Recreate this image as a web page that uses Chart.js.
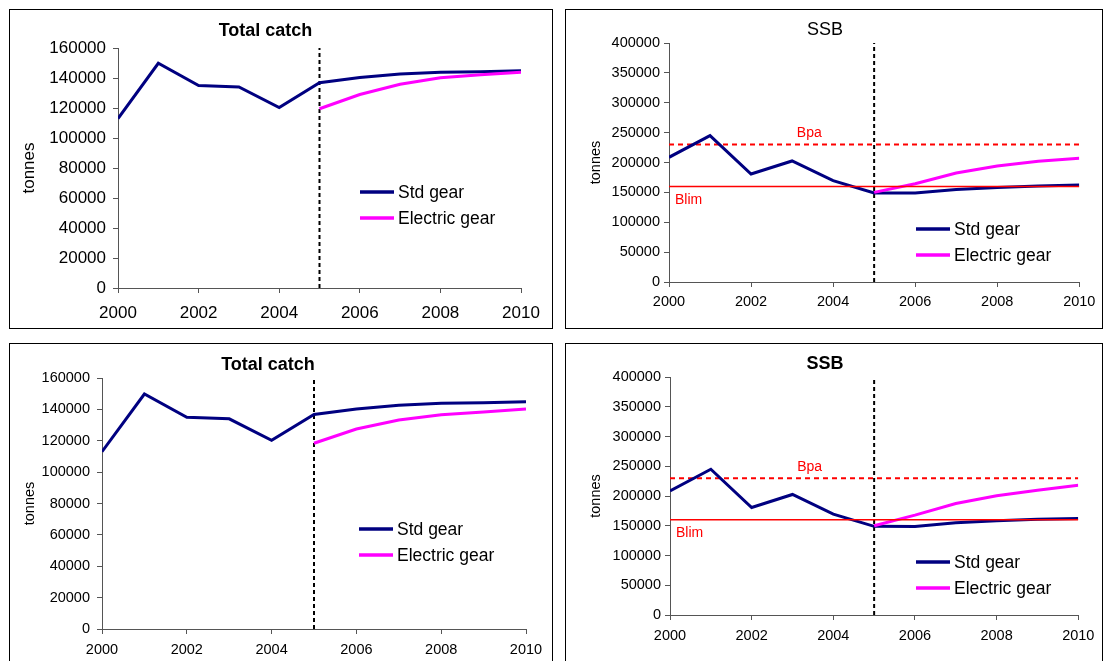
<!DOCTYPE html>
<html>
<head>
<meta charset="utf-8">
<script src="https://cdn.jsdelivr.net/npm/chart.js@4.4.1/dist/chart.umd.min.js"></script>
<style>
  body{margin:0;background:#fff;width:1104px;height:661px;overflow:hidden;position:relative;font-family:"Liberation Sans",Arial,sans-serif}
  .panel{position:absolute;border:1px solid #000;background:#fff;overflow:hidden}
  .panel canvas{display:block}
</style>
</head>
<body>
<div class="panel" style="left:9px;top:9px;width:542px;height:318px"><canvas id="c1" width="542" height="318"></canvas></div>
<div class="panel" style="left:565px;top:9px;width:536px;height:318px"><canvas id="c2" width="536" height="318"></canvas></div>
<div class="panel" style="left:9px;top:343px;width:542px;height:330px"><canvas id="c3" width="542" height="318"></canvas></div>
<div class="panel" style="left:565px;top:343px;width:536px;height:330px"><canvas id="c4" width="536" height="318"></canvas></div>
<script>
// years and projection years
const years = [2000,2001,2002,2003,2004,2005,2006,2007,2008,2009,2010];
const projYears = [2005,2006,2007,2008,2009,2010];
const yearTicks = [2000,2002,2004,2006,2008,2010];

// total catch (tonnes)
const catchStd = [113000,149800,135000,134000,120300,136800,140300,142700,143900,144200,144800];
const catchElecTop = [119500,129000,135800,140200,142200,143900];
const catchElecBottom = [118400,127500,133200,136600,138300,140200];
const catchTicks = [0,20000,40000,60000,80000,100000,120000,140000,160000];

// SSB (tonnes)
const ssbStd = [208700,245000,180700,202600,169600,149000,148800,155000,158300,160800,162200];
const ssbElecTop = [150000,164500,182400,194100,202000,207000];
const ssbElecBottom = [150000,167800,187400,200300,209800,218200];
const ssbTicks = [0,50000,100000,150000,200000,250000,300000,350000,400000];
const Bpa = 230000;
const Blim = 160000;

const seriesNames = ['Std gear','Electric gear'];
const NAVY = '#000080', MAGENTA = '#FF00FF', RED = '#FF0000';
const FONT = '"Liberation Sans", Arial, sans-serif';

function pts(xs, ys){ return xs.map((x,i)=>({x:x, y:ys[i]})); }

// legend + reference line labels drawn inside the plot
const deco = {
  id:'deco',
  afterDatasetsDraw(chart, args, o){
    const ctx = chart.ctx, xs = chart.scales.x, ys = chart.scales.y;
    ctx.save();
    ctx.textBaseline = 'middle';
    (o.refs || []).forEach(r=>{
      ctx.fillStyle = RED;
      ctx.font = '14px ' + FONT;
      ctx.textAlign = r.align;
      ctx.fillText(r.text, xs.getPixelForValue(r.x) + r.dx, ys.getPixelForValue(r.y) + r.dy);
    });
    const items = chart.data.datasets.filter(d=>d.inLegend);
    items.forEach((d,i)=>{
      const ly = o.y + i*26;
      ctx.strokeStyle = d.borderColor; ctx.lineWidth = 3.5;
      ctx.beginPath(); ctx.moveTo(o.x, ly); ctx.lineTo(o.x+34, ly); ctx.stroke();
      ctx.fillStyle = '#000'; ctx.textAlign = 'left';
      ctx.font = '17.5px ' + FONT;
      ctx.fillText(d.label, o.x+38, ly+1);
    });
    ctx.restore();
  }
};

function makePanel(id, p){
  const yMax = p.yTicks[p.yTicks.length-1];
  const datasets = [
    { label: seriesNames[0], inLegend:true, data: pts(years, p.std), borderColor: NAVY, borderWidth: 3, order: 2 },
    { label: seriesNames[1], inLegend:true, data: pts(projYears, p.elec), borderColor: MAGENTA, borderWidth: 3, order: 1 },
    { label: 'proj', data: [{x:2005,y:0},{x:2005,y:yMax}], borderColor:'#000', borderWidth: 2, borderDash:[4,3], order: 3 }
  ];
  if(p.refs){
    datasets.push({ label:'Bpa', data: [{x:2000,y:Bpa},{x:2010,y:Bpa}], borderColor: RED, borderWidth: 2, borderDash:[5,4], order: 4 });
    datasets.push({ label:'Blim', data: [{x:2000,y:Blim},{x:2010,y:Blim}], borderColor: RED, borderWidth: 1.5, order: 0 });
  }
  datasets.forEach(d=>{ d.pointRadius = 0; d.tension = 0; d.fill = false; });

  return new Chart(document.getElementById(id).getContext('2d'), {
    type: 'line',
    data: { datasets: datasets },
    plugins: [deco],
    options: {
      responsive: false, animation: false,
      layout: { padding: { left: 0, right: p.padRight, top: 0, bottom: 0 } },
      plugins: {
        legend: { display: false }, tooltip: { enabled: false },
        title: { display: true, text: p.title, color: '#000',
                 font: { family: FONT, size: 18, weight: p.bold ? 'bold' : 'normal' },
                 padding: { top: p.titleTop, bottom: p.titleBottom } },
        deco: { x: p.legX, y: p.legY, refs: p.refs }
      },
      scales: {
        x: {
          type: 'linear', min: 2000, max: 2010,
          afterBuildTicks: a => { a.ticks = yearTicks.map(v=>({value:v})); },
          afterFit: s => { s.height = p.xHeight; },
          grid: { display: true, drawOnChartArea: false, drawTicks: true, tickLength: 5, color: '#555' },
          border: { display: true, color: '#555', width: 1 },
          ticks: { color: '#000', padding: p.xPad, maxRotation: 0, font: { family: FONT, size: p.tickSize },
                   callback: v => String(v) }
        },
        y: {
          min: 0, max: yMax,
          afterBuildTicks: a => { a.ticks = p.yTicks.map(v=>({value:v})); },
          afterFit: s => { s.width = p.yWidth; },
          grid: { display: true, drawOnChartArea: false, drawTicks: true, tickLength: 5, color: '#555' },
          border: { display: true, color: '#555', width: 1 },
          ticks: { color: '#000', padding: p.yPad, font: { family: FONT, size: p.tickSize },
                   callback: v => String(v) },
          title: { display: true, text: 'tonnes', color: '#000',
                   font: { family: FONT, size: p.unitSize }, padding: { top: p.unitPad, bottom: 0 } }
        }
      }
    }
  });
}

function render(){
  makePanel('c1', { title:'Total catch', bold:true, std: catchStd, elec: catchElecTop, yTicks: catchTicks,
    padRight: 31, titleTop: 10, titleBottom: 6.4, xHeight: 40, yWidth: 108, tickSize: 17, unitSize: 17, unitPad: 9,
    xPad: 10, yPad: 7, legX: 350, legY: 182 });
  makePanel('c2', { title:'SSB', bold:false, std: ssbStd, elec: ssbElecTop, yTicks: ssbTicks,
    padRight: 18, titleTop: 9, titleBottom: 2.4, xHeight: 46, yWidth: 103, tickSize: 14.5, unitSize: 14.5, unitPad: 21,
    xPad: 6.6, yPad: 4, legX: 350, legY: 219,
    refs: [ { text:'Bpa', x:2003.42, y:Bpa, dx:0, dy:-11, align:'center' },
            { text:'Blim', x:2000, y:Blim, dx:6, dy:14, align:'left' } ] });
  makePanel('c3', { title:'Total catch', bold:true, std: catchStd, elec: catchElecBottom, yTicks: catchTicks,
    padRight: 26, titleTop: 10, titleBottom: 2.4, xHeight: 33, yWidth: 92, tickSize: 14.5, unitSize: 14.5, unitPad: 11.6,
    xPad: 7.6, yPad: 7, legX: 349, legY: 185 });
  makePanel('c4', { title:'SSB', bold:true, std: ssbStd, elec: ssbElecBottom, yTicks: ssbTicks,
    padRight: 18, titleTop: 9, titleBottom: 2.4, xHeight: 47, yWidth: 104, tickSize: 14.5, unitSize: 14.5, unitPad: 21,
    xPad: 7.6, yPad: 4, legX: 350, legY: 218,
    refs: [ { text:'Bpa', x:2003.42, y:Bpa, dx:0, dy:-11, align:'center' },
            { text:'Blim', x:2000, y:Blim, dx:6, dy:13, align:'left' } ] });
}

if(document.readyState === 'loading'){
  document.addEventListener('DOMContentLoaded', render);
} else render();
</script>
</body>
</html>
